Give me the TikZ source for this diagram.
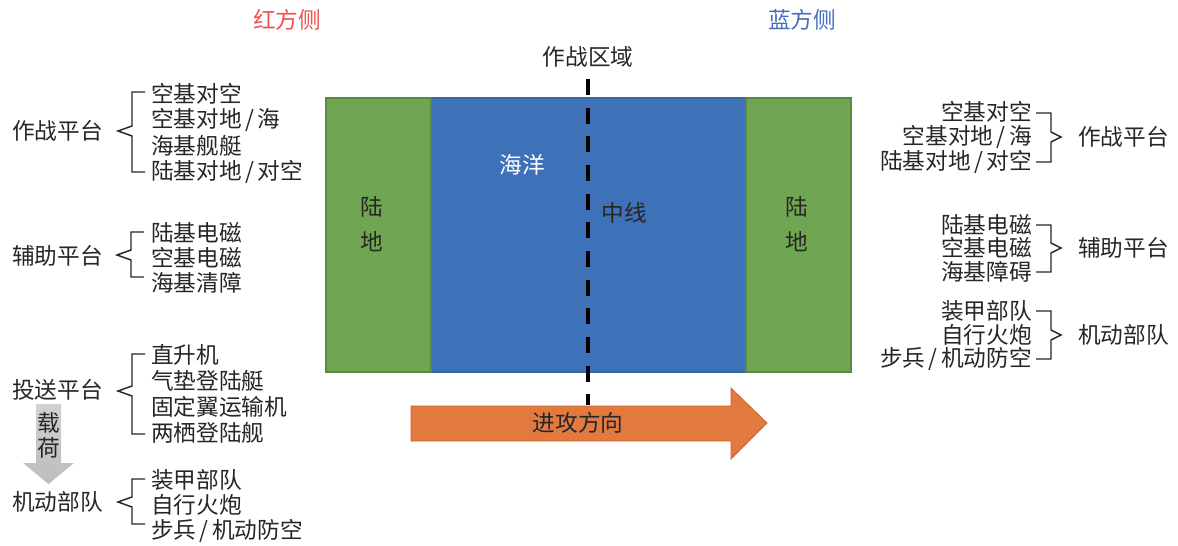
\documentclass[tikz,border=0pt]{standalone}
\usepackage{fontspec}
\setmainfont{Noto Sans CJK SC}
\definecolor{tc}{HTML}{262626}
\definecolor{redtxt}{HTML}{F05050}
\definecolor{bluetxt}{HTML}{4A6CC0}
\definecolor{land}{HTML}{70A552}
\definecolor{landb}{HTML}{5A8A40}
\definecolor{sea}{HTML}{3D71B8}
\definecolor{seab}{HTML}{3A66A4}
\definecolor{orng}{HTML}{E27A40}
\definecolor{orngb}{HTML}{C8642C}
\definecolor{grayar}{HTML}{BDBDBD}
\newcommand\myslash{\kern2.5pt/\kern2.5pt}
\newcommand\myLB[4]{\draw[brace] (#1+13,#2) -- (#1,#2) -- (#1,#3-5) -- (#1-14,#3) -- (#1,#3+5) -- (#1,#4) -- (#1+13,#4);}
\newcommand\myRB[4]{\draw[brace] (#1-15,#2) -- (#1,#2) -- (#1,#3-5) -- (#1+10,#3) -- (#1,#3+5) -- (#1,#4) -- (#1-15,#4);}
\begin{document}
\begin{tikzpicture}[x=0.75pt,y=-0.75pt,
 txt/.style={inner sep=0pt,font=\fontsize{17}{20}\selectfont,text=tc},
 brace/.style={draw=tc,line width=1.1pt,line join=miter},
 landbox/.style={fill=land,draw=landb,line width=0.8pt},
 seabox/.style={fill=sea,draw=seab,line width=0.8pt}]
\useasboundingbox (0,0) rectangle (1178,546);
% headings
\node[txt,text=redtxt] (red) at (287,20) {红方侧};
\node[txt,text=bluetxt] (blue) at (802,20) {蓝方侧};
\node[txt] (zone) at (588,57) {作战区域};
% map
\draw[seabox] (431,98) rectangle (746,372);
\draw[landbox] (326,98) rectangle (431,372);
\draw[landbox] (746,98) rectangle (851,372);
\node[txt,text=white] (ocean) at (522,165) {海洋};
\node[txt] (mid) at (624,213) {中线};
\node[txt] (l1) at (372,207) {陆};
\node[txt] (l2) at (372,242) {地};
\node[txt] (r1) at (797,207) {陆};
\node[txt] (r2) at (797,242) {地};
% dashed midline
\coordinate (dtop) at (588,79);
\coordinate (dbot) at (588,405);
\draw[line width=3pt,dash pattern=on 12pt off 9.5pt] (dtop) -- (dbot);
% attack arrow
\draw[fill=orng,draw=orngb,line width=0.6pt] (411,406) -- (731,406) -- (731,388) -- (767,423) -- (731,459) -- (731,441) -- (411,441) -- cycle;
\node[txt] (attack) at (578,423) {进攻方向};
% ---------- left column ----------
\node[txt,anchor=west] (lz) at (12,131) {作战平台};
\node[txt,anchor=west] (lz1) at (151,94) {空基对空};
\node[txt,anchor=west] (lz2) at (151,120) {空基对地\myslash 海};
\node[txt,anchor=west] (lz3) at (151,146) {海基舰艇};
\node[txt,anchor=west] (lz4) at (151,172) {陆基对地\myslash 对空};
\myLB{132}{92}{131}{172}
\node[txt,anchor=west] (lf) at (12,256) {辅助平台};
\node[txt,anchor=west] (lf1) at (151,233) {陆基电磁};
\node[txt,anchor=west] (lf2) at (151,258) {空基电磁};
\node[txt,anchor=west] (lf3) at (151,283) {海基清障};
\myLB{131}{232}{255}{277}
\node[txt,anchor=west] (lt) at (12,390) {投送平台};
\node[txt,anchor=west] (lt1) at (151,355) {直升机};
\node[txt,anchor=west] (lt2) at (151,381) {气垫登陆艇};
\node[txt,anchor=west] (lt3) at (151,407) {固定翼运输机};
\node[txt,anchor=west] (lt4) at (151,433) {两栖登陆舰};
\myLB{132}{354}{391}{434}
% payload arrow
\shade[top color=grayar!70,bottom color=grayar] (36,404) -- (61,404) -- (61,463) -- (74,463) -- (48.5,484) -- (23,463) -- (36,463) -- cycle;
\node[txt] (zai) at (48.5,423) {载};
\node[txt] (he) at (48.5,448) {荷};
\node[txt,anchor=west] (lm) at (12,502) {机动部队};
\node[txt,anchor=west] (lm1) at (151,480) {装甲部队};
\node[txt,anchor=west] (lm2) at (151,505) {自行火炮};
\node[txt,anchor=west] (lm3) at (151,531) {步兵\myslash 机动防空};
\myLB{132}{479}{502}{524}
% ---------- right column ----------
\node[txt,anchor=east] (rz1) at (1032,112) {空基对空};
\node[txt,anchor=east] (rz2) at (1032,137) {空基对地\myslash 海};
\node[txt,anchor=east] (rz3) at (1032,162) {陆基对地\myslash 对空};
\myRB{1051}{113}{137}{162}
\node[txt,anchor=west] (rz) at (1078,137) {作战平台};
\node[txt,anchor=east] (rf1) at (1032,225) {陆基电磁};
\node[txt,anchor=east] (rf2) at (1032,248) {空基电磁};
\node[txt,anchor=east] (rf3) at (1032,272) {海基障碍};
\myRB{1051}{225}{248}{272}
\node[txt,anchor=west] (rf) at (1078,248) {辅助平台};
\node[txt,anchor=east] (rm1) at (1032,311) {装甲部队};
\node[txt,anchor=east] (rm2) at (1032,335) {自行火炮};
\node[txt,anchor=east] (rm3) at (1032,359) {步兵\myslash 机动防空};
\myRB{1051}{311}{335}{359}
\node[txt,anchor=west] (rm) at (1078,335) {机动部队};
\end{tikzpicture}
\end{document}
